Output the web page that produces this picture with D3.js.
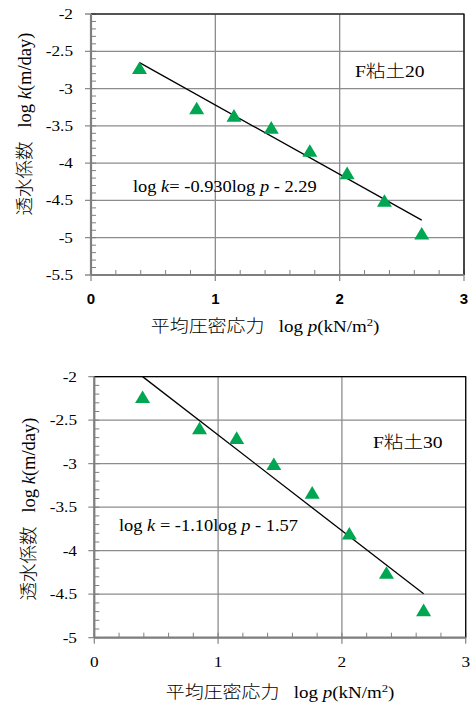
<!DOCTYPE html>
<html>
<head>
<meta charset="utf-8">
<script src="https://cdn.jsdelivr.net/npm/d3@7"></script>
<style>
  body { margin: 0; background: #fff; }
  svg { display: block; }
</style>
</head>
<body>
<div id="chart"></div>
<script>
'use strict';

// Data
var logP = [0.39, 0.85, 1.15, 1.45, 1.76, 2.06, 2.36, 2.66];
var logK20 = [-2.72, -3.26, -3.36, -3.52, -3.83, -4.13, -4.50, -4.94];
var logK30 = [-2.23, -2.59, -2.70, -3.00, -3.33, -3.80, -4.25, -4.68];
var fit20 = {slope: -0.930, intercept: -2.29, label: '-0.930', b: '2.29'};
var fit30 = {slope: -1.10, intercept: -1.57, label: '-1.10', b: '1.57'};
var xTicks = [0, 1, 2, 3];
var yTicks20 = [-5.5, -5, -4.5, -4, -3.5, -3, -2.5, -2];
var yTicks30 = [-5, -4.5, -4, -3.5, -3, -2.5, -2];
var titles = ['F粘土20', 'F粘土30'];

var W = 471, H = 702;
var SX = 1.15; // text in the source is a bit wide
var serif = '"Liberation Serif", "Times New Roman", "Noto Sans CJK JP", serif';
var green = '#00a651';
var gridColor = '#8c8c8c';
var axisColor = '#7f7f7f';

var svg = d3.select('#chart').append('svg')
  .attr('width', W).attr('height', H);
svg.append('rect').attr('width', W).attr('height', H).attr('fill', '#fff');

function translation(x, y) {
  return 'translate(' + x + ',' + y + ')';
}

// Horizontally stretched text, anchored at (x, y)
function addText(parent, x, y, anchor, size, sx) {
  return parent.append('g')
    .attr('transform', translation(x, y) + ' scale(' + sx + ',1)')
    .append('text')
    .attr('text-anchor', anchor)
    .attr('font-family', serif)
    .attr('font-size', size)
    .attr('fill', '#000')
    .attr('xml:space', 'preserve');
}

// CJK runs in a lighter weight (the source uses a thin Mincho face)
function cjk(sel, s) {
  return sel.append('tspan').attr('font-weight', 300).text(s);
}

function panel(cfg) {
  var x = d3.scaleLinear().domain([0, 3]).range([cfg.left, cfg.right]);
  var y = d3.scaleLinear().domain([cfg.yTicks[0], -2]).range([cfg.bottom, cfg.top]);
  var g = svg.append('g');

  // grid + outward major ticks
  g.selectAll('.hgrid').data(cfg.yTicks).enter().append('line')
    .attr('x1', cfg.left - 6).attr('x2', cfg.right)
    .attr('y1', function(d) { return y(d); }).attr('y2', function(d) { return y(d); })
    .attr('stroke', gridColor).attr('stroke-width', 1.3);
  g.selectAll('.vgrid').data(xTicks).enter().append('line')
    .attr('x1', function(d) { return x(d); }).attr('x2', function(d) { return x(d); })
    .attr('y1', cfg.top).attr('y2', cfg.bottom + 6)
    .attr('stroke', gridColor).attr('stroke-width', 1.3);

  // minor ticks, inside
  var yMinor = y.ticks(Math.round((-2 - cfg.yTicks[0]) / 0.1));
  g.selectAll('.ymin').data(yMinor).enter().append('line')
    .attr('x1', cfg.left).attr('x2', cfg.left + 5)
    .attr('y1', function(d) { return y(d); }).attr('y2', function(d) { return y(d); })
    .attr('stroke', axisColor).attr('stroke-width', 1);
  var xMinor = x.ticks(15);
  g.selectAll('.xmin').data(xMinor).enter().append('line')
    .attr('x1', function(d) { return x(d); }).attr('x2', function(d) { return x(d); })
    .attr('y1', cfg.bottom).attr('y2', cfg.bottom - 5)
    .attr('stroke', axisColor).attr('stroke-width', 1);

  // frame
  g.append('path')
    .attr('d', 'M' + cfg.left + ',' + cfg.top + 'H' + cfg.right + 'V' + cfg.bottom)
    .attr('fill', 'none').attr('stroke', '#000').attr('stroke-width', 1.2);
  g.append('line')
    .attr('x1', cfg.left).attr('x2', cfg.left).attr('y1', cfg.top).attr('y2', cfg.bottom)
    .attr('stroke', axisColor).attr('stroke-width', 2.2);
  g.append('line')
    .attr('x1', cfg.left).attr('x2', cfg.right).attr('y1', cfg.bottom).attr('y2', cfg.bottom)
    .attr('stroke', axisColor).attr('stroke-width', 2.2);

  // regression line
  var x0 = logP[0], x1 = logP[logP.length - 1];
  g.append('line')
    .attr('x1', x(x0)).attr('y1', y(cfg.fit.slope * x0 + cfg.fit.intercept))
    .attr('x2', x(x1)).attr('y2', y(cfg.fit.slope * x1 + cfg.fit.intercept))
    .attr('stroke', '#000').attr('stroke-width', 1.3);

  // triangle markers
  var tw = 7.5, th = 6.3;
  g.selectAll('.pt').data(logP.map(function(p, i) { return [p, cfg.values[i]]; }))
    .enter().append('path')
    .attr('d', 'M0,' + (-th) + 'L' + tw + ',' + th + 'L' + (-tw) + ',' + th + 'Z')
    .attr('transform', function(d) { return translation(x(d[0]), y(d[1])); })
    .attr('fill', green);

  // y tick labels
  cfg.yTicks.forEach(function(d) {
    addText(g, cfg.yLabelX, y(d) + 5, 'end', 15, SX).text(d);
  });
  // x tick labels
  xTicks.forEach(function(d) {
    var t = addText(g, x(d), cfg.xLabelY, 'middle', 15, cfg.xBold ? 1 : SX).text(d);
    if (cfg.xBold) {
      t.attr('font-family', '"Liberation Sans Narrow", "Arial Narrow", "Liberation Sans", sans-serif')
        .attr('font-weight', 'bold');
    }
  });

  // axis titles
  var xt = addText(g, cfg.xTitle[0], cfg.xTitle[1], 'middle', 16.5, SX);
  cjk(xt, '平均圧密応力');
  xt.append('tspan').text('   log ');
  xt.append('tspan').attr('font-style', 'italic').text('p');
  xt.append('tspan').text('(kN/m');
  xt.append('tspan').attr('baseline-shift', 'super').attr('font-size', 11).text('2');
  xt.append('tspan').text(')');

  var yt = g.append('text')
    .attr('transform', translation(cfg.yTitle[0], cfg.yTitle[1]) + ' rotate(-90)')
    .attr('text-anchor', 'middle')
    .attr('font-family', serif)
    .attr('font-size', 18.5)
    .attr('xml:space', 'preserve');
  cjk(yt, '透水係数');
  yt.append('tspan').text('   log ');
  yt.append('tspan').attr('font-style', 'italic').text('k');
  yt.append('tspan').text('(m/day)');

  // series label
  var tt = addText(g, cfg.title[0], cfg.title[1], 'start', 17, SX);
  tt.append('tspan').text(cfg.titleText.slice(0, 1));
  cjk(tt, cfg.titleText.slice(1, 3));
  tt.append('tspan').text(cfg.titleText.slice(3));

  // equation
  var eq = addText(g, cfg.eq[0], cfg.eq[1], 'start', 16, SX);
  eq.append('tspan').text('log ');
  eq.append('tspan').attr('font-style', 'italic').text('k');
  eq.append('tspan').text(cfg.eqSep + cfg.fit.label + 'log ');
  eq.append('tspan').attr('font-style', 'italic').text('p');
  eq.append('tspan').text(' - ' + cfg.fit.b);
}

panel({
  left: 91, right: 464, top: 14, bottom: 275,
  yTicks: yTicks20, values: logK20, fit: fit20,
  yLabelX: 73, xLabelY: 304, xBold: true,
  xTitle: [265, 332], yTitle: [31, 124],
  title: [355, 77], titleText: titles[0],
  eq: [133, 192], eqSep: '= '
});

panel({
  left: 94.3, right: 465.7, top: 376.7, bottom: 637.7,
  yTicks: yTicks30, values: logK30, fit: fit30,
  yLabelX: 77, xLabelY: 667, xBold: false,
  xTitle: [280, 698], yTitle: [35, 509],
  title: [373, 448], titleText: titles[1],
  eq: [119, 531], eqSep: ' = '
});
</script>
</body>
</html>
